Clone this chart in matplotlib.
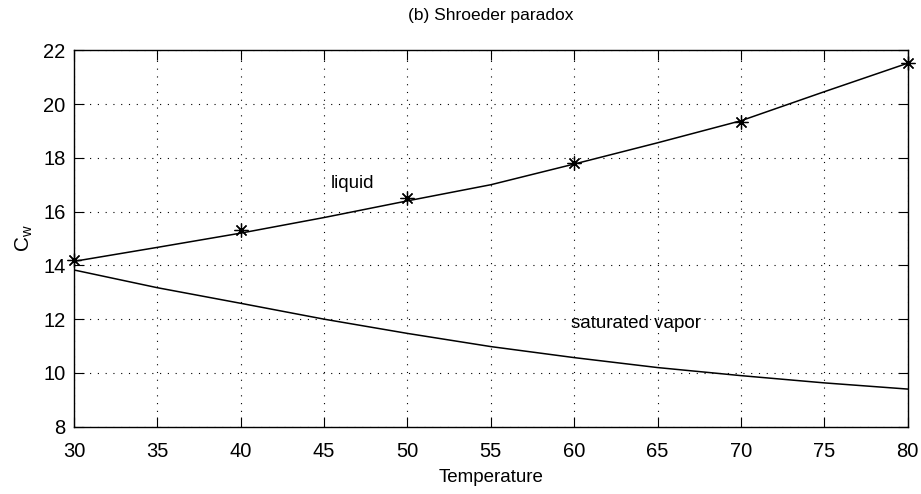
import matplotlib.pyplot as plt

plt.rcParams['font.family'] = ['Liberation Sans Narrow', 'Liberation Sans', 'DejaVu Sans']

temp = [30, 35, 40, 45, 50, 55, 60, 65, 70, 75, 80]
liquid = [14.15, 14.67, 15.2, 15.78, 16.4, 17.0, 17.77, 18.56, 19.38, 20.46, 21.52]
vapor = [13.83, 13.17, 12.59, 12.0, 11.47, 10.98, 10.57, 10.2, 9.9, 9.63, 9.4]
t_pts = [30, 40, 50, 60, 70, 80]
liq_pts = [14.2, 15.32, 16.5, 17.8, 19.32, 21.52]

fig = plt.figure(figsize=(9.21, 4.94), dpi=100)
ax = fig.add_axes([0.0803, 0.1362, 0.9053, 0.762])

ax.plot(temp, liquid, color='black', lw=1.1)
ax.plot(temp, vapor, color='black', lw=1.1)
ax.plot(t_pts, liq_pts, ls='none', marker=(8, 2, 0), ms=10, mew=0.9,
        color='black', clip_on=False)

ax.text(45.4, 17.05, 'liquid', fontsize=13.5, va='center')
ax.text(59.8, 11.85, 'saturated vapor', fontsize=13.5, va='center')

ax.set_xlim(30, 80)
ax.set_ylim(8, 22)
ax.set_xticks(range(30, 81, 5))
ax.set_yticks(range(8, 23, 2))
ax.grid(True, color='black', ls=(0, (1, 6)), lw=0.8)
ax.tick_params(direction='in', top=True, right=True, length=7, labelsize=14.5, width=0.8)
ax.tick_params(axis='x', pad=11)
ax.tick_params(axis='y', pad=6)
for s in ax.spines.values():
    s.set_linewidth(1.0)

ax.set_xlabel('Temperature', fontsize=13.5, labelpad=6)
ax.set_ylabel(r'$\mathregular{C_w}$', fontsize=15, labelpad=6)
ax.set_title('(b) Shroeder paradox', fontsize=12.5, pad=22)

fig.savefig('out.png', dpi=100)
